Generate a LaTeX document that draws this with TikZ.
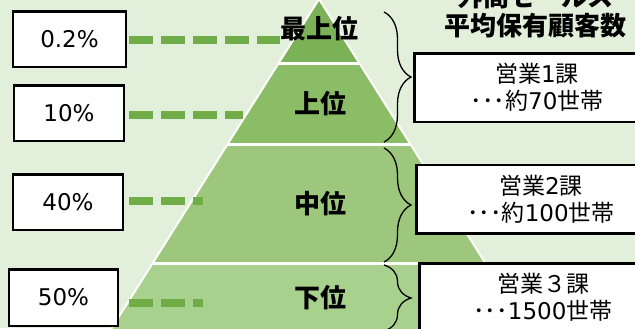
\documentclass[tikz,border=0pt]{standalone}
\usepackage{fontspec}
\setmainfont{DejaVu Sans}
\newfontfamily\jp{Noto Sans CJK JP}
\usetikzlibrary{decorations.pathreplacing}
\definecolor{bg}{HTML}{E2EFDA}
\definecolor{tierA}{HTML}{7CB257}
\definecolor{tierB}{HTML}{8BBD66}
\definecolor{tierC}{HTML}{9CC77C}
\definecolor{tierD}{HTML}{A9D18E}
\definecolor{dashgreen}{HTML}{70AD47}
\tikzset{
  lbox/.style={draw=black, fill=white, line width=2.5bp, inner sep=0pt,
    font=\fontsize{23bp}{27bp}\selectfont},
  rbox/.style={draw=black, fill=white, line width=2.5bp, inner sep=0pt,
    align=center, font=\fontsize{23bp}{27bp}\selectfont},
  tierlabel/.style={font=\jp\bfseries\fontsize{26bp}{30bp}\selectfont, inner sep=0pt},
  heading/.style={font=\jp\bfseries\fontsize{26bp}{29bp}\selectfont, align=center, inner sep=0pt},
  dashline/.style={draw=dashgreen, line width=8bp, dash pattern=on 24bp off 8bp},
  bracestyle/.style={draw=black, line width=1.3bp, decorate,
    decoration={brace, amplitude=27bp}},
  sep/.style={draw=white, line width=3bp},
  edge/.style={draw=white, line width=2bp}
}
\begin{document}
\begin{tikzpicture}[x=1bp, y=-1bp]
\useasboundingbox (0,0) rectangle (635,328);
\clip (0,0) rectangle (635,328);
\fill[bg] (0,0) rectangle (635,328);
% pyramid tiers
\fill[tierA] (319,-1) -- (278.4,63.5) -- (359.6,63.5) -- cycle;
\fill[tierB] (278.4,63.5) -- (227.3,144.5) -- (410.7,144.5) -- (359.6,63.5) -- cycle;
\fill[tierC] (227.3,144.5) -- (152.4,263.5) -- (485.6,263.5) -- (410.7,144.5) -- cycle;
\fill[tierD] (152.4,263.5) -- (104.2,340) -- (533.8,340) -- (485.6,263.5) -- cycle;
\draw[edge] (104.2,340) -- (319,-1) -- (533.8,340);
\draw[sep] (278.4,63.5) -- (359.6,63.5);
\draw[sep] (227.3,144.5) -- (410.7,144.5);
\draw[sep] (152.4,263.5) -- (485.6,263.5);
% tier labels
\node[tierlabel] (t1) at (319,28.5) {最上位};
\node[tierlabel] (t2) at (320,104) {上位};
\node[tierlabel] (t3) at (320,204) {中位};
\node[tierlabel] (t4) at (320,298) {下位};
% left boxes
\node[lbox, minimum width=112.5bp, minimum height=55.5bp] (b1) at (69.5,39) {0.2\%};
\node[lbox, minimum width=109.5bp, minimum height=55.5bp] (b2) at (69,113) {10\%};
\node[lbox, minimum width=109.5bp, minimum height=55.5bp] (b3) at (68,202) {40\%};
\node[lbox, minimum width=108.5bp, minimum height=56.5bp] (b4) at (63.5,297.5) {50\%};
% dashed lines
\coordinate (d1) at (280,39.5);
\coordinate (d2) at (243,115);
\coordinate (d3) at (203,200.5);
\coordinate (d4) at (203,302.5);
\draw[dashline, shorten <=2.25bp] (b1.east |- d1) -- (d1);
\draw[dashline, shorten <=4.25bp] (b2.east |- d2) -- (d2);
\draw[dashline, shorten <=5.25bp] (b3.east |- d3) -- (d3);
\draw[dashline, shorten <=10.25bp] (b4.east |- d4) -- (d4);
% heading
\node[heading] (h) at (535,11.5) {外商セールス\\平均保有顧客数};
% right boxes
\node[rbox, minimum width=245.5bp, minimum height=68.5bp] (r1) at (537,87.5)
  {{\jp 営業}1{\jp 課}\\{\jp ･･･約}70{\jp 世帯}};
\node[rbox, minimum width=249.5bp, minimum height=68.5bp] (r2) at (541,199)
  {{\jp 営業}2{\jp 課}\\{\jp ･･･約}100{\jp 世帯}};
\node[rbox, minimum width=247.5bp, minimum height=68.5bp] (r3) at (543,297.5)
  {{\jp 営業３課}\\{\jp ･･･}1500{\jp 世帯}};
% braces
\coordinate (e1a) at (384,12);
\coordinate (e1b) at (384,142);
\coordinate (e2a) at (384,148);
\coordinate (e2b) at (384,262);
\coordinate (e3a) at (384,265);
\coordinate (e3b) at (384,331);
\draw[bracestyle] (e1a) -- (e1b);
\draw[bracestyle] (e2a) -- (e2b);
\draw[bracestyle] (e3a) -- (e3b);
\end{tikzpicture}
\end{document}
